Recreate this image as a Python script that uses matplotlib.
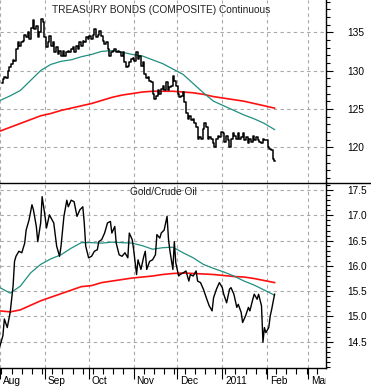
import numpy as np
import matplotlib
matplotlib.use("Agg")
import matplotlib.pyplot as plt
from matplotlib.lines import Line2D
from matplotlib.ticker import FixedLocator
from matplotlib.transforms import ScaledTranslation, Bbox, TransformedBbox

# x axis is days after 2010-08-01
MONTH_DAYS = [0, 31, 61, 92, 122, 153, 184, 212]
MONTH_LABELS = ["Aug", "Sep", "Oct", "Nov", "Dec", "2011", "Feb", "Mar"]

# treasury bonds, roughly daily closes from Aug 2 2010 to Feb 7 2011
bond_close = [
    128.4, 128.9, 129.2, 129.0, 129.9, 130.4, 130.8, 131.4, 131.2, 132.8,
    133.7, 133.2, 133.7, 133.8, 134.7, 134.4, 135.0, 134.1, 135.6, 136.6,
    135.4, 135.8, 134.4, 135.0, 136.7, 136.3, 134.4, 133.1, 133.7, 134.5,
    133.2, 133.7, 132.4, 133.1, 132.1, 132.5, 131.9, 132.5, 131.9, 132.4,
    132.5, 132.4, 132.8, 133.1, 132.4, 133.2, 132.8, 133.7, 133.2, 133.8,
    133.7, 134.4, 134.1, 134.5, 134.1, 134.7, 135.4,
    134.4, 134.7, 135.2, 134.5, 133.9, 133.4, 133.7, 132.8, 131.9, 132.4,
    132.6, 132.8, 132.4, 132.6, 132.4, 131.9, 132.4, 131.1, 130.4, 130.6,
    131.1, 131.5, 131.7, 131.3, 132.4, 131.5, 131.9, 130.6, 131.1, 129.6,
    129.0, 129.1, 128.7, 128.5, 127.0, 126.3, 126.7, 127.4, 127.0, 127.6,
    128.0, 127.4, 128.5, 127.4, 127.8, 128.0, 129.3, 128.7, 128.0, 127.0,
    126.5, 126.7, 127.2,
    125.9, 124.4, 123.7, 124.1, 123.5, 123.7, 123.1, 122.6, 121.1, 121.3,
    121.1, 122.4, 123.1, 122.6, 121.1, 121.3, 121.1, 120.5, 120.0, 121.1,
    121.5, 121.3, 122.0, 121.8, 120.7, 121.5, 120.9, 120.0, 121.1, 121.8,
    121.5, 121.1, 121.8, 121.1, 121.3, 121.8, 120.9, 121.3, 120.5, 121.1,
    120.7, 121.5, 120.9, 121.3, 120.9, 120.7, 120.5, 121.1, 120.9, 120.9,
    120.0, 119.8, 119.6, 118.5, 118.2,
]
bond_first_day, bond_last_day = 1.15, 189.3

# moving averages, read weekly-ish from Aug 1 to Feb 7
bond_ma50 = [
    126.1, 126.7, 127.4, 128.7, 130.0, 130.8, 131.2, 131.4, 131.8, 132.1,
    132.5, 132.6, 132.4, 132.1, 131.9, 131.4, 130.9, 130.2, 129.5, 128.3,
    127.1, 126.0, 125.4, 124.8, 124.2, 123.7, 123.1, 122.3,
]
bond_ma200 = [
    122.1, 122.6, 123.1, 123.6, 124.1, 124.4, 124.8, 125.1, 125.4, 125.7,
    126.1, 126.5, 126.8, 127.0, 127.2, 127.3, 127.3, 127.3, 127.2, 127.1,
    126.9, 126.6, 126.4, 126.2, 126.0, 125.7, 125.4, 125.1,
]

# gold / crude oil ratio
gc_days = [
    0, 2, 3, 5, 7, 9, 10, 11, 13, 15, 17, 18, 20, 22, 23, 25, 26, 28, 29, 31,
    32, 34, 37, 39, 41, 42, 44, 46, 47, 49, 51, 53, 55, 57, 58, 59, 61, 63, 65, 67,
    68, 70, 72, 74, 76, 77, 79, 80, 82, 84, 86, 88, 89, 91, 92, 94, 95, 97, 99, 100,
    101, 103, 105, 107, 108, 110, 111, 113, 115, 116, 117, 119, 120, 121, 123, 124, 126, 128, 130, 131,
    133, 135, 136, 138, 140, 142, 144, 146, 147, 149, 151, 153, 154, 156, 158, 159, 161, 163, 164, 166,
    167, 169, 171, 172, 174, 175, 177, 178, 180, 181, 182, 183, 185, 186, 187, 189,
]
gc_ratio = [
    14.42, 14.62, 14.95, 14.78, 15.08, 15.60, 16.09, 16.19, 16.29, 16.26,
    16.45, 16.71, 16.91, 17.21, 17.11, 16.78, 16.48, 16.85, 17.37, 16.98,
    16.75, 17.01, 16.85, 16.39, 16.19, 16.39, 16.98, 17.30, 17.17, 17.30,
    17.27, 16.98, 17.11, 17.17, 16.85, 16.39, 16.16, 16.19, 16.29, 16.32,
    16.48, 16.52, 16.65, 16.85, 16.88, 16.65, 16.78, 16.45, 16.22, 16.19,
    16.26, 16.16, 16.65, 16.52, 16.32, 15.83, 16.12, 15.93, 16.19, 16.29,
    15.93, 16.09, 16.12, 16.22, 16.62, 16.55, 16.65, 16.71, 16.98, 16.52,
    16.29, 15.93, 16.48, 16.06, 15.80, 15.83, 15.86, 15.90, 15.70, 15.83,
    15.80, 15.90, 15.70, 15.67, 15.54, 15.37, 15.21, 15.11, 15.37, 15.54,
    15.67, 15.57, 15.44, 15.27, 15.54, 15.57, 15.44, 15.18, 15.24, 15.08,
    14.88, 15.01, 15.18, 15.11, 15.34, 15.44, 15.34, 15.44, 15.21, 14.49,
    14.78, 14.68, 14.78, 15.01, 15.14, 15.44,
]
gc_ma50 = [
    15.57, 15.46, 15.60, 15.86, 16.03, 16.14, 16.22, 16.35, 16.46, 16.46,
    16.45, 16.47, 16.46, 16.45, 16.40, 16.33, 16.36, 16.37, 16.26, 16.16,
    16.03, 15.95, 15.88, 15.80, 15.70, 15.62, 15.52, 15.42,
]
gc_ma200 = [
    15.11, 15.09, 15.13, 15.22, 15.31, 15.38, 15.45, 15.52, 15.59, 15.61,
    15.67, 15.70, 15.73, 15.76, 15.78, 15.80, 15.83, 15.85, 15.86, 15.85,
    15.84, 15.83, 15.81, 15.79, 15.78, 15.75, 15.71, 15.67,
]
ma_last_day = 189

TEAL = "#1f8f80"
RED = "#ff1010"
GRID = "#a8a8a8"
FS = 7.3

plt.rcParams["font.family"] = ["Liberation Sans", "DejaVu Sans"]

W, H = 371, 388
fig = plt.figure(figsize=(W / 100, H / 100), dpi=100)
ax1 = fig.add_axes([0, (H - 182.5) / H, 326 / W, 182.5 / H])
ax2 = fig.add_axes([0, (H - 367.5) / H, 326 / W, 185 / H])

bond_days = np.linspace(bond_first_day, bond_last_day, len(bond_close))
ma_days = np.linspace(0, ma_last_day, len(bond_ma50))

ax1.plot(ma_days, bond_ma200, color=RED, lw=1.2)
ax1.plot(ma_days, bond_ma50, color=TEAL, lw=0.9)
ax1.plot(bond_days, bond_close, color="black", lw=1.1, drawstyle="steps-mid")

ax2.plot(ma_days, gc_ma200, color=RED, lw=1.2)
ax2.plot(ma_days, gc_ma50, color=TEAL, lw=0.9)
ax2.plot(gc_days, gc_ratio, color="black", lw=1.0)

ax1.set_ylim(115.4, 139.2)
ax2.set_ylim(13.99, 17.65)

for ax in (ax1, ax2):
    ax.set_xlim(0, 224.4)
    ax.set_xticks(MONTH_DAYS)
    ax.xaxis.set_minor_locator(FixedLocator(np.arange(1, 224, 7)))
    ax.yaxis.tick_right()
    ax.grid(True, which="major", color=GRID, linestyle=(0, (3, 3)), linewidth=0.8)
    for side in ("left", "top", "bottom"):
        ax.spines[side].set_visible(False)
    ax.spines["right"].set_linewidth(1.0)
    ax.tick_params(axis="y", which="major", length=5.3, width=0.8, pad=9.9,
                   labelsize=FS, direction="out")
    ax.tick_params(axis="y", which="minor", length=2.6, width=0.8, direction="out")

ax1.yaxis.set_major_locator(FixedLocator([120, 125, 130, 135]))
ax1.yaxis.set_minor_locator(FixedLocator(np.arange(116, 140, 1)))
ax1.tick_params(axis="x", which="both", length=0, labelbottom=False)

ax2.yaxis.set_major_locator(FixedLocator([14.5, 15.0, 15.5, 16.0, 16.5, 17.0, 17.5]))
ax2.yaxis.set_minor_locator(FixedLocator(np.arange(14.0, 17.66, 0.1)))
ax2.set_yticklabels(["14.5", "15.0", "15.5", "16.0", "16.5", "17.0", "17.5"])
ax2.spines["bottom"].set_visible(True)
ax2.spines["bottom"].set_linewidth(1.0)
ax2.set_xticklabels(MONTH_LABELS)
ax2.tick_params(axis="x", which="major", length=7.9, width=0.8, pad=-1.6,
                labelsize=FS, direction="out")
ax2.tick_params(axis="x", which="minor", length=4.3, width=0.8, direction="out")

clip = TransformedBbox(Bbox([[0, 0], [326 / W, 1]]), fig.transFigure)
shift = ScaledTranslation(2 / 72, 0, fig.dpi_scale_trans)
for tick in ax2.xaxis.get_major_ticks():
    lbl = tick.label1
    lbl.set_horizontalalignment("left")
    lbl.set_transform(lbl.get_transform() + shift)
    lbl.set_clip_box(clip)
    lbl.set_clip_on(True)

# separator between the two panels spans the full width
sep_y = (H - 182.5) / H
fig.add_artist(Line2D([0, 1], [sep_y, sep_y], transform=fig.transFigure,
                      color="black", lw=1.0))

ax1.text(161 / 326, 1 - 10 / 182.5, "TREASURY BONDS (COMPOSITE) Continuous",
         transform=ax1.transAxes, ha="center", va="center", fontsize=FS, color="#222222")
ax2.text(163 / 326, 1 - 9.5 / 185, "Gold/Crude Oil",
         transform=ax2.transAxes, ha="center", va="center", fontsize=FS, color="#222222")

fig.savefig("out.png", dpi=100)
